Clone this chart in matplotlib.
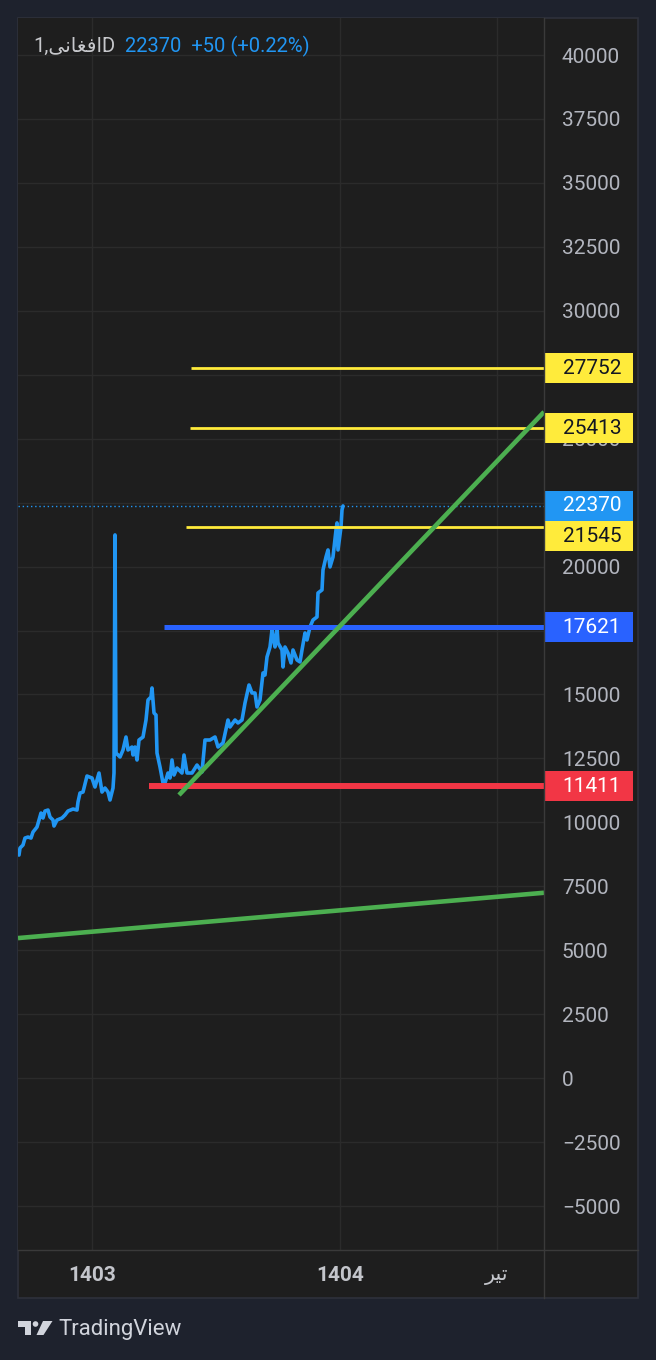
import matplotlib
matplotlib.use('Agg')
import matplotlib.pyplot as plt
from matplotlib.patches import Rectangle, Polygon, Circle
from matplotlib.lines import Line2D
from matplotlib.transforms import Affine2D, blended_transform_factory

# ---------------- data ----------------
bars = [1, 2, 5, 7, 10, 13, 15, 19, 21, 23, 25, 27, 30, 32, 35, 36, 39, 44, 47, 50,
        55, 59, 60, 62, 65, 69, 74, 77, 81, 84, 87, 90, 92, 95, 96, 97, 98, 102, 105, 108,
        110, 114, 115, 117, 119, 121, 125, 128, 130, 133, 134, 136, 138, 139, 142, 145, 147, 150, 152, 154,
        156, 159, 164, 166, 169, 174, 179, 184, 187, 192, 197, 200, 205, 210, 212, 217, 220, 224, 227, 231,
        234, 237, 239, 242, 245, 247, 249, 252, 254, 255, 257, 259, 260, 264, 265, 267, 270, 273, 275, 279,
        282, 284, 287, 289, 292, 295, 299, 300, 304, 305, 308, 310, 312, 315, 318, 319, 320, 323, 324, 325]
close = [8721, 8995, 9113, 9386, 9426, 9386, 9621, 9817, 10090, 10364, 10169, 10442, 10481, 10208, 10090, 9856, 10090, 10169, 10286, 10442,
         10521, 10481, 10794, 11146, 11185, 11811, 11733, 11381, 11929, 11185, 11342, 11185, 10873, 11342, 11929, 21237, 12711, 12554, 12828, 13337,
         12828, 12945, 12633, 12945, 12437, 13219, 13337, 14001, 14784, 14901, 15253, 14275, 14197, 12711, 12163, 11537, 11537, 11929, 11733, 12437,
         11850, 12124, 11929, 12633, 11929, 11929, 12241, 11968, 13219, 13219, 13337, 12945, 13102, 14001, 13728, 14001, 13884, 14001, 14666, 15370,
         15057, 15057, 14510, 14784, 15840, 15761, 16465, 16856, 17521, 17248, 16856, 17639, 17013, 16739, 16074, 16856, 16622, 16231, 16739, 16348,
         16270, 16739, 17404, 17130, 17639, 17912, 18030, 18968, 19086, 19868, 20376, 20650, 19985, 20376, 21432, 21706, 20650, 21550, 22214, 22370]

price_ticks = list(range(-5000, 40001, 2500))
hidden_ticks = [27500, 22500, 17500]   # covered by price-scale labels
time_tick_pos = [74, 322, 479]
time_tick_labels = ['1403', '1404', '\uFEAE\uFEF4\uFE97']
time_tick_bold = [True, True, False]

last_price = 22370
header_name = '1,\uFEF0\uFEE7\uFE8E\uFED0\uFED3\uFE8DD'
header_quote = '22370  +50 (+0.22%)'

yellow_levels = [27752, 25413, 21545]
yellow_starts = [173, 172, 168]
blue_level = 17621
blue_start = 146
red_level = 11411
red_start = 131
trend_up_x = [161, 526]
trend_up_y = [11068, 26046]
trend_low_x = [0, 526]
trend_low_y = [5475, 7247]

# ---------------- layout ----------------
W, H = 656, 1360
FONT = ['Roboto', 'DejaVu Sans']
plt.rcParams['font.family'] = FONT

OUTER = '#1e222d'
PANEL = '#1e1e1e'
GRID = '#2b2b2b'
SEP = '#3a3a3a'
TICKC = '#b2b5be'
BLUE = '#2196f3'
YEL = '#ffeb3b'
RBLUE = '#2962ff'
RED = '#f23645'
GREEN = '#4caf50'

fig = plt.figure(figsize=(W / 100, H / 100), dpi=100, facecolor=OUTER)
px = Affine2D().scale(1 / W, -1 / H).translate(0, 1) + fig.transFigure

fig.patches.append(Rectangle((18, 18), 620, 1280, transform=px, facecolor=PANEL,
                             edgecolor='#2e313b', lw=1.2, zorder=-5))

ax = fig.add_axes([18 / W, 1 - 1250 / H, 526 / W, 1232 / H])
ax.set_facecolor(PANEL)
ylo, yhi = -6720, 41447
ax.set_ylim(ylo, yhi)
ax.set_xlim(0, 526)
for s in ax.spines.values():
    s.set_visible(False)

ax.set_yticks(price_ticks)
ax.set_yticklabels([('' if v in hidden_ticks else (f'\u2212{abs(v)}' if v < 0 else f'{v}'))
                    for v in price_ticks])
ax.yaxis.tick_right()
ax.tick_params(axis='y', length=0, pad=12.9, labelsize=15, labelcolor=TICKC)
ax.set_xticks(time_tick_pos)
ax.tick_params(axis='x', length=0, labelbottom=False)
ax.grid(True, color=GRID, lw=1)
ax.set_axisbelow(True)

# price line
ax.plot(bars, close, color=BLUE, lw=2.6, solid_joinstyle='round', solid_capstyle='round', zorder=5)
ax.axhline(last_price, color=BLUE, lw=1, ls=(0, (1, 2)), zorder=4)

# horizontal levels
for lv, st in zip(yellow_levels, yellow_starts):
    ax.plot([st, 526], [lv, lv], color=YEL, lw=2.0, solid_capstyle='butt', zorder=6)
ax.plot([blue_start, 526], [blue_level, blue_level], color=RBLUE, lw=3.6, solid_capstyle='butt', zorder=6)
ax.plot([red_start, 526], [red_level, red_level], color=RED, lw=4.3, solid_capstyle='butt', zorder=6)

# trend lines
ax.plot(trend_up_x, trend_up_y, color=GREEN, lw=3.3, solid_capstyle='butt', zorder=7)
ax.plot(trend_low_x, trend_low_y, color=GREEN, lw=3.3, solid_capstyle='butt', zorder=7)

# price-scale labels
upp = (yhi - ylo) / 1232.0  # data units per pixel
bt = blended_transform_factory(ax.transAxes, ax.transData)
box_w = 89 / 526
box_h = 30 * upp
labels = [
    (yellow_levels[0], 0, YEL, '#131722'),
    (yellow_levels[1], 0, YEL, '#131722'),
    (last_price, 0, BLUE, 'white'),
    (yellow_levels[2], 9, YEL, '#131722'),
    (blue_level, 0, RBLUE, 'white'),
    (red_level, 0, RED, 'white'),
]
for val, off, bg, fg in labels:
    yc = val - off * upp
    ax.add_patch(Rectangle((1.0, yc - box_h / 2), box_w, box_h, transform=bt,
                           facecolor=bg, edgecolor='none', clip_on=False, zorder=20))
    ax.text(1 + 18.5 / 526, yc, f'{val}', transform=bt, color=fg, fontsize=15,
            va='center', ha='left', clip_on=False, zorder=21)

# time axis
tax = fig.add_axes([18 / W, 1 - 1298 / H, 526 / W, 48 / H])
tax.set_facecolor(PANEL)
tax.set_xlim(0, 526)
tax.set_ylim(0, 1)
tax.axis('off')
for pos, lab, b in zip(time_tick_pos, time_tick_labels, time_tick_bold):
    tax.text(pos, 0.47, lab, ha='center', va='center', fontsize=15,
             fontweight='bold' if b else 'normal', color='#c3c5cb', family=FONT)

# separators
fig.add_artist(Line2D([544, 544], [18, 1298], transform=px, color=SEP, lw=1))
fig.add_artist(Line2D([18, 638], [1250, 1250], transform=px, color=SEP, lw=1))

# header
fig.text(33 / W, 1 - 46 / H, header_name, color='#c7c8cc', fontsize=14.5, va='center', ha='left', family=FONT)
fig.text(125 / W, 1 - 46 / H, header_quote, color=BLUE, fontsize=14.5, va='center', ha='left', family=FONT)

# TradingView logo
LC = '#d1d4dc'
fig.patches.append(Polygon([(18, 1321), (31, 1321), (31, 1335), (25, 1335), (25, 1327), (18, 1327)],
                           closed=True, transform=px, facecolor=LC, edgecolor='none'))
fig.patches.append(Circle((35.5, 1324), 2.8, transform=px, facecolor=LC, edgecolor='none'))
fig.patches.append(Polygon([(43, 1321), (52.5, 1321), (43.5, 1335), (36.5, 1335)],
                           closed=True, transform=px, facecolor=LC, edgecolor='none'))
fig.text(58 / W, 1 - 1330 / H, 'TradingView', color=LC, fontsize=16, va='center', ha='left', family=FONT)

fig.savefig('out.png', dpi=100, facecolor=OUTER)
